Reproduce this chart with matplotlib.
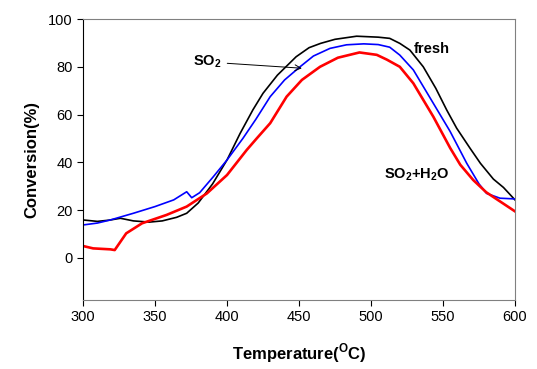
import matplotlib.pyplot as plt

plt.rcParams['font.family'] = ['Liberation Sans', 'DejaVu Sans']
plt.rcParams['mathtext.fontset'] = 'custom'
plt.rcParams['mathtext.rm'] = 'Liberation Sans'
plt.rcParams['mathtext.bf'] = 'Liberation Sans:bold'

# fresh (black)
t_fresh = [300, 310, 318, 326, 335, 346, 355, 365, 372, 380, 390, 400, 409, 418, 425, 435,
           448, 457, 465, 475, 490, 505, 513, 520, 527, 536.3, 545, 552.6, 559.5, 568.8, 576,
           585, 592, 600]
c_fresh = [15.9, 15.3, 15.8, 16.6, 15.5, 15.0, 15.5, 17.0, 18.7, 23.0, 31.0, 41.0, 52.0, 62.0, 68.9, 76.5,
           84.2, 88.0, 89.8, 91.5, 92.8, 92.4, 91.9, 89.8, 87.0, 80.0, 71.0, 61.9, 54.3, 45.9, 39.6,
           33.0, 29.5, 24.3]

# SO2 (blue)
t_so2 = [300, 310, 319, 335, 350, 363, 372, 375.5, 381, 390.5, 400, 411, 420, 430, 440,
         450.7, 460, 471.5, 483, 495, 505, 513, 520, 529.4, 543.3, 554.9, 566.5, 575,
         580.3, 589.6, 600]
c_so2 = [13.8, 14.6, 15.9, 18.7, 21.5, 24.3, 27.7, 25.2, 27.3, 34.0, 41.0, 50.0, 58.0, 67.5, 74.5,
         80.0, 84.5, 87.7, 89.2, 89.6, 89.3, 88.2, 84.9, 78.7, 64.7, 53.0, 39.6, 31.0,
         27.0, 25.0, 24.7]

# SO2+H2O (red)
t_h2o = [300, 307, 319, 322, 330, 341, 358, 372, 386, 400, 413.7, 420.6, 430, 441.4, 452,
         464.6, 477, 492, 504, 511, 520, 529.4, 543.3, 555, 562, 571, 580,
         590, 600]
c_h2o = [5.0, 4.0, 3.6, 3.3, 10.3, 14.5, 18.0, 21.5, 27.0, 34.7, 45.2, 50.0, 56.4, 67.5, 74.5,
         80.0, 83.8, 86.0, 85.0, 83.0, 80.0, 73.1, 59.1, 46.0, 39.0, 32.6, 27.5,
         23.5, 19.5]

fig = plt.figure(figsize=(5.37, 3.69), dpi=100)
ax = fig.add_axes([0.1546, 0.187, 0.8044, 0.7615])

ax.plot(t_fresh, c_fresh, color='black', lw=1.2)
ax.plot(t_so2, c_so2, color='blue', lw=1.2)
ax.plot(t_h2o, c_h2o, color='red', lw=1.9)

ax.set_xlim(300, 600)
ax.set_ylim(-17.6, 100)
ax.set_xticks([300, 350, 400, 450, 500, 550, 600])
ax.set_yticks([0, 20, 40, 60, 80, 100])
ax.tick_params(direction='out', labelsize=10.5, length=4, top=False, right=False)
for s in ['top', 'right', 'bottom']:
    ax.spines[s].set_color('#808080')

ax.set_xlabel(r'Temperature($^\mathbf{O}$C)', fontsize=12, fontweight='bold', labelpad=12)
ax.set_ylabel('Conversion(%)', fontsize=12, fontweight='bold', labelpad=6)

ax.text(530, 87.5, 'fresh', fontsize=10.5, fontweight='bold', va='center')
ax.text(509, 34.7, r'SO$_\mathbf{2}$+H$_\mathbf{2}$O', fontsize=10.5, fontweight='bold', va='center')
ax.annotate(r'SO$_\mathbf{2}$', xy=(452, 79.4), xytext=(376.5, 82),
            fontsize=10.5, fontweight='bold', va='center',
            arrowprops=dict(arrowstyle='->', color='black', lw=0.7, shrinkA=2, shrinkB=0))

fig.savefig('out.png', dpi=100)
